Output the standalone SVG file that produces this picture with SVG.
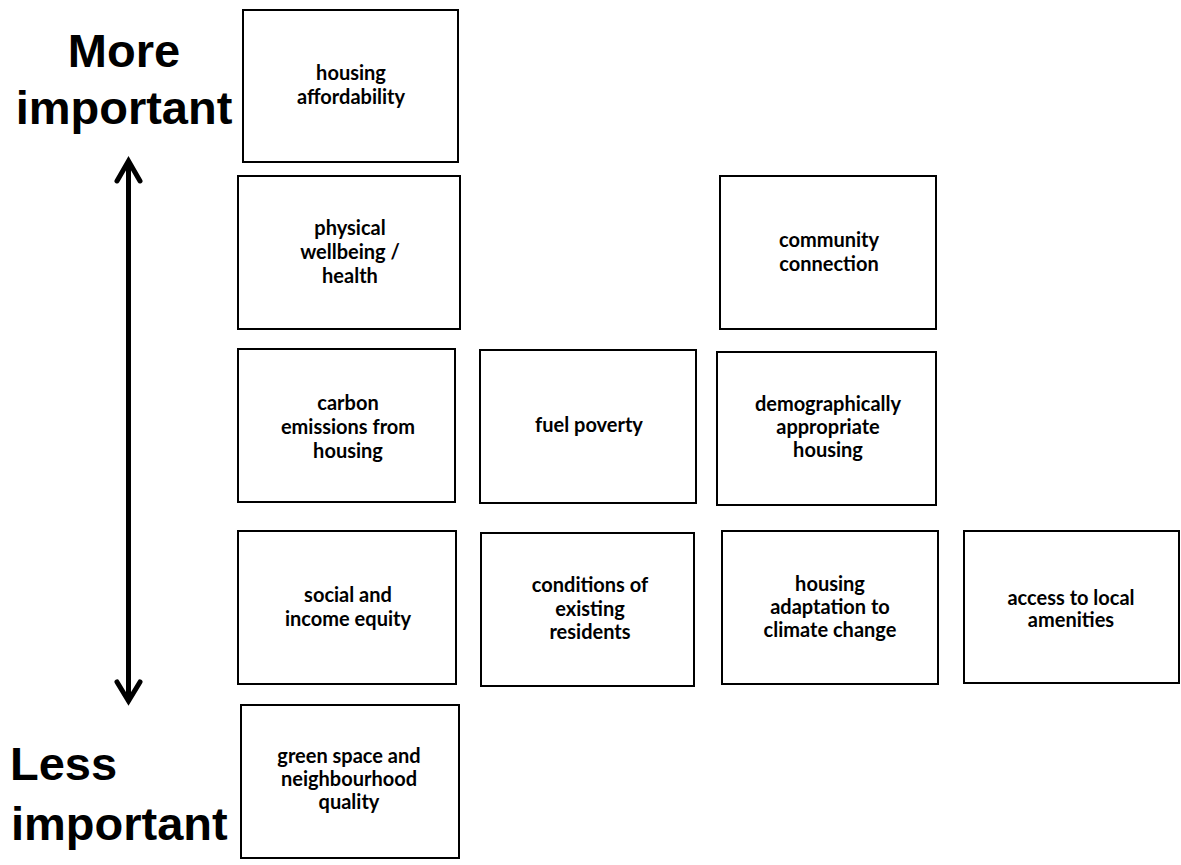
<svg xmlns="http://www.w3.org/2000/svg" width="1181" height="865" viewBox="0 0 1181 865">
<style>
.box{fill:#fff;stroke:#000;stroke-width:2}
.t{font-family:Lato,"Open Sans",sans-serif;font-weight:700;font-size:20px;text-anchor:middle;fill:#000}
.big{font-family:"Liberation Sans",Arial,sans-serif;font-weight:700;font-size:47px;fill:#000}
.ax{fill:none;stroke:#000;stroke-width:5;stroke-linecap:round;stroke-linejoin:miter}
</style>
<rect width="1181" height="865" fill="#fff"/>
<g id="labels">
<text class="big" x="124" y="67" text-anchor="middle">More</text>
<text class="big" x="124" y="124" text-anchor="middle">important</text>
<text class="big" x="10" y="780">Less</text>
<text class="big" x="11" y="840">important</text>
</g>
<g id="connectors">
<line class="ax" x1="128.5" y1="163" x2="128.5" y2="700"/>
<polyline class="ax" points="117,181 128.5,161 140,181"/>
<polyline class="ax" points="117,682 128.5,701 140,682"/>
</g>
<g id="n1"><rect class="box" x="243" y="10" width="215" height="152"/>
<text class="t" x="351" y="80">housing</text><text class="t" x="351" y="104">affordability</text></g>
<g id="n2"><rect class="box" x="238" y="176" width="222" height="153"/>
<text class="t" x="350" y="235">physical</text><text class="t" x="350" y="259">wellbeing /</text><text class="t" x="350" y="283">health</text></g>
<g id="n3"><rect class="box" x="720" y="176" width="216" height="153"/>
<text class="t" x="829" y="247">community</text><text class="t" x="829" y="271">connection</text></g>
<g id="n4"><rect class="box" x="238" y="349" width="217" height="153"/>
<text class="t" x="348" y="410">carbon</text><text class="t" x="348" y="434">emissions from</text><text class="t" x="348" y="458">housing</text></g>
<g id="n5"><rect class="box" x="480" y="350" width="216" height="153"/>
<text class="t" x="589" y="432">fuel poverty</text></g>
<g id="n6"><rect class="box" x="717" y="352" width="219" height="153"/>
<text class="t" x="828" y="411">demographically</text><text class="t" x="828" y="434">appropriate</text><text class="t" x="828" y="457">housing</text></g>
<g id="n7"><rect class="box" x="238" y="531" width="218" height="153"/>
<text class="t" x="348" y="602">social and</text><text class="t" x="348" y="626">income equity</text></g>
<g id="n8"><rect class="box" x="481" y="533" width="213" height="153"/>
<text class="t" x="590" y="592">conditions of</text><text class="t" x="590" y="616">existing</text><text class="t" x="590" y="639">residents</text></g>
<g id="n9"><rect class="box" x="722" y="531" width="216" height="153"/>
<text class="t" x="830" y="591">housing</text><text class="t" x="830" y="614">adaptation to</text><text class="t" x="830" y="637">climate change</text></g>
<g id="n10"><rect class="box" x="964" y="531" width="215" height="152"/>
<text class="t" x="1071" y="605">access to local</text><text class="t" x="1071" y="627">amenities</text></g>
<g id="n11"><rect class="box" x="241" y="705" width="218" height="153"/>
<text class="t" x="349" y="763">green space and</text><text class="t" x="349" y="786">neighbourhood</text><text class="t" x="349" y="809">quality</text></g>
</svg>
